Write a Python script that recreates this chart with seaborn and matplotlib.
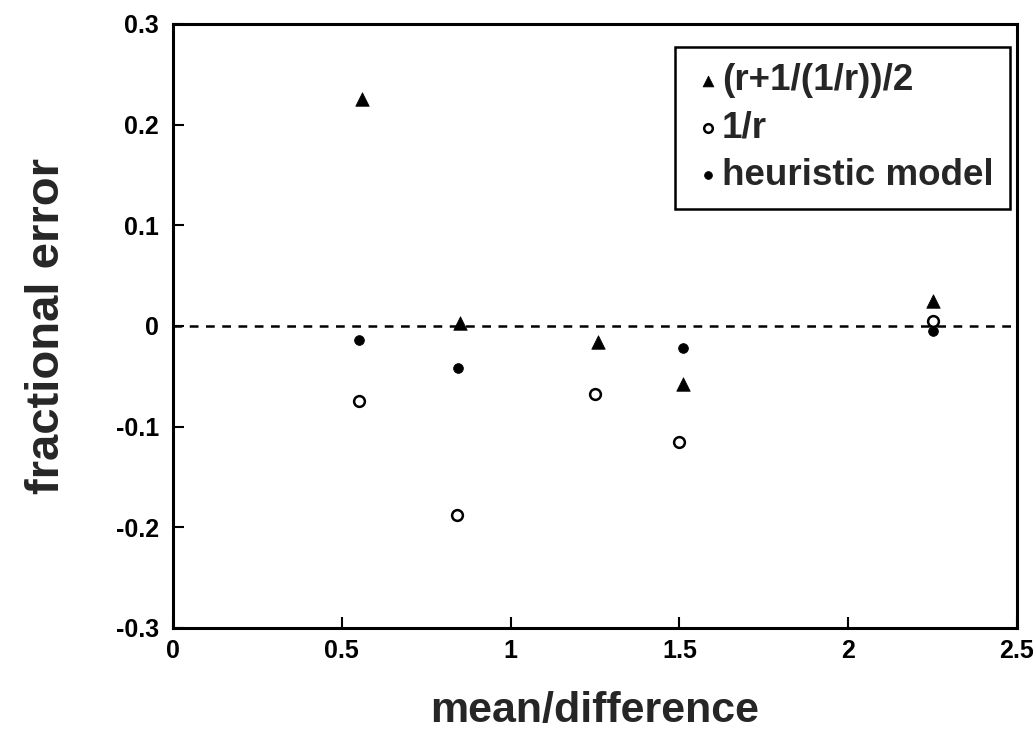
import matplotlib
matplotlib.use("Agg")
import matplotlib.pyplot as plt
import seaborn as sns
import pandas as pd

# ---- data ----
tri_x = [0.56, 0.85, 1.26, 1.51, 2.25]
tri_y = [0.225, 0.003, -0.016, -0.058, 0.025]

inv_x = [0.55, 0.84, 1.25, 1.50, 2.25]
inv_y = [-0.075, -0.188, -0.068, -0.115, 0.005]

heu_x = [0.55, 0.845, 1.51, 2.25]
heu_y = [-0.014, -0.042, -0.022, -0.005]

labels = ["(r+1/(1/r))/2", "1/r", "heuristic model"]
x_ticks = [0, 0.5, 1, 1.5, 2, 2.5]
x_tick_labels = ["0", "0.5", "1", "1.5", "2", "2.5"]
y_ticks = [-0.3, -0.2, -0.1, 0, 0.1, 0.2, 0.3]
y_tick_labels = ["-0.3", "-0.2", "-0.1", "0", "0.1", "0.2", "0.3"]

sns.set_theme(style="ticks")
plt.rcParams["font.family"] = ["Liberation Sans", "DejaVu Sans"]
plt.rcParams["font.weight"] = "bold"

fig = plt.figure(figsize=(10.33, 7.37), dpi=100)
ax = fig.add_axes([0.1675, 0.148, 0.817, 0.8195])

df_tri = pd.DataFrame({"x": tri_x, "y": tri_y})
df_inv = pd.DataFrame({"x": inv_x, "y": inv_y})
df_heu = pd.DataFrame({"x": heu_x, "y": heu_y})

ax.axhline(0, color="black", linestyle=(0, (3.5, 3)), linewidth=1.8, zorder=1)

sns.scatterplot(data=df_tri, x="x", y="y", marker="^", s=95, color="black",
                edgecolor="black", linewidth=0.5, label=labels[0], ax=ax, zorder=3)
sns.scatterplot(data=df_inv, x="x", y="y", marker="o", s=60, facecolor="white",
                edgecolor="black", linewidth=1.8, label=labels[1], ax=ax, zorder=3)
sns.scatterplot(data=df_heu, x="x", y="y", marker="o", s=50, color="black",
                edgecolor="black", linewidth=0.5, label=labels[2], ax=ax, zorder=4)

ax.set_xlim(0, 2.5)
ax.set_ylim(-0.3, 0.3)
ax.set_xticks(x_ticks)
ax.set_xticklabels(x_tick_labels)
ax.set_yticks(y_ticks)
ax.set_yticklabels(y_tick_labels)
ax.tick_params(axis="both", direction="in", length=8, width=1.5, labelsize=18,
               colors="black", pad=10)
ax.tick_params(axis="x", pad=8)
for lab in ax.get_xticklabels() + ax.get_yticklabels():
    lab.set_fontweight("bold")

for sp in ax.spines.values():
    sp.set_visible(True)
    sp.set_linewidth(2.2)
    sp.set_color("black")

ax.set_xlabel("mean/difference", fontsize=31, fontweight="bold", labelpad=20)
ax.set_ylabel("fractional error", fontsize=34, fontweight="bold", labelpad=34)

leg = ax.legend(loc="upper right", bbox_to_anchor=(0.992, 0.962),
                frameon=True, fancybox=False, framealpha=1, edgecolor="black",
                prop={"size": 26.5, "weight": "bold"}, handlelength=0.9,
                handletextpad=-0.08, labelspacing=0.33, borderpad=0.45,
                borderaxespad=0, markerscale=0.8)
leg.get_frame().set_linewidth(1.8)

fig.savefig("out.png", dpi=100)
